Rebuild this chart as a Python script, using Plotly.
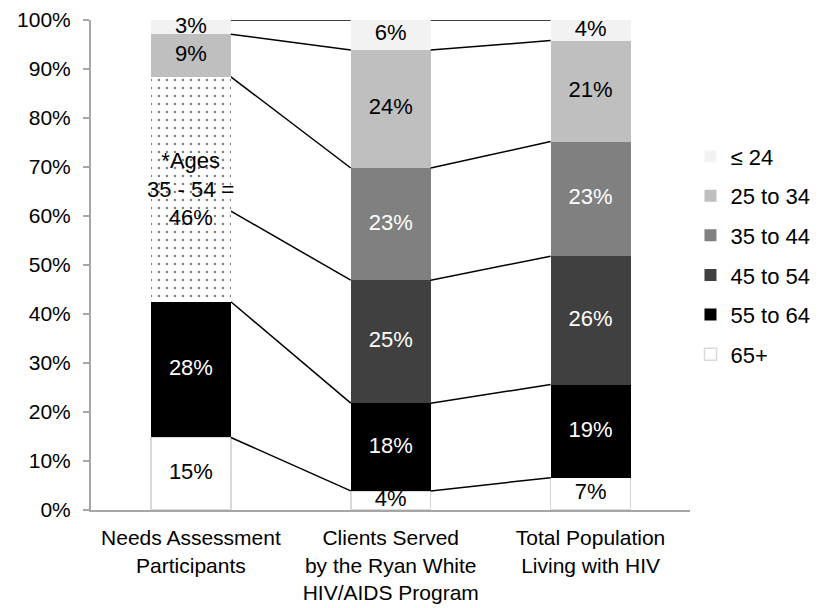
import plotly.graph_objects as go

categories = ["Needs Assessment<br>Participants",
              "Clients Served<br>by the Ryan White<br>HIV/AIDS Program",
              "Total Population<br>Living with HIV"]

# series values (percent), bottom to top
s_65plus = [14.8, 3.9, 6.6]
s_55_64 = [27.7, 17.9, 19.0]
s_45_54 = [18.5, 25.1, 26.2]
s_35_44 = [27.4, 22.9, 23.4]
s_25_34 = [8.7, 24.1, 20.6]
s_24 = [2.9, 6.1, 4.2]

series_names = ["65+", "55 to 64", "45 to 54", "35 to 44", "25 to 34", "\u2264 24"]
series_values = [s_65plus, s_55_64, s_45_54, s_35_44, s_25_34, s_24]
series_colors = ["#ffffff", "#000000", "#404040", "#808080", "#bfbfbf", "#f2f2f2"]
text_colors = ["black", "white", "white", "white", "black", "black"]
combined_note = "*Ages<br>35 - 54 =<br>{:.0f}%"

FONT = "Liberation Sans, Arial, sans-serif"
FS = 22
BAR_W = 0.4
xs = list(range(len(categories)))
n_series = len(series_names)
COMBINED = ("45 to 54", "35 to 44")

fig = go.Figure()

for k, (name, vals, col) in enumerate(zip(series_names, series_values, series_colors)):
    marker = dict(color=col,
                  line=dict(color="#d9d9d9" if name == "65+" else "rgba(0,0,0,0)",
                            width=1.5 if name == "65+" else 0))
    fig.add_trace(go.Bar(
        x=xs, y=vals, name=name, width=BAR_W, marker=marker,
        textposition="none", legendgroup=name, legendrank=n_series - k,
        showlegend=True, hoverinfo="skip",
    ))

# dotted overlay for the combined 35-54 segment of the first bar
base0 = s_65plus[0] + s_55_64[0]
comb0 = s_45_54[0] + s_35_44[0]
fig.add_trace(go.Bar(
    x=[xs[0]], y=[comb0], base=[base0], width=BAR_W, xaxis="x2", yaxis="y",
    marker=dict(color="white", line=dict(width=0),
                pattern=dict(shape=".", fgcolor="black", bgcolor="white",
                             size=8, solidity=0.08)),
    showlegend=False, hoverinfo="skip",
))

# series lines connecting segment tops between bars, and data labels
cum = [0.0] * len(categories)
for k, vals in enumerate(series_values):
    below = cum
    cum = [c + v for c, v in zip(cum, vals)]
    for i in range(len(categories) - 1):
        fig.add_trace(go.Scatter(
            x=[xs[i] + BAR_W / 2, xs[i + 1] - BAR_W / 2],
            y=[cum[i], cum[i + 1]],
            mode="lines", line=dict(color="black", width=1.5),
            showlegend=False, hoverinfo="skip",
        ))
    lx, ly, lt = [], [], []
    for i, v in enumerate(vals):
        if series_names[k] in COMBINED and i == 0:
            continue
        lx.append(xs[i])
        ly.append(below[i] + v / 2)
        lt.append(f"{v:.0f}%")
    fig.add_trace(go.Scatter(
        x=lx, y=ly, text=lt, mode="text", textposition="middle center",
        textfont=dict(family=FONT, size=FS, color=text_colors[k]),
        cliponaxis=False, showlegend=False, hoverinfo="skip",
    ))

fig.add_annotation(x=xs[0], y=base0 + comb0 / 2, text=combined_note.format(comb0),
                   showarrow=False, font=dict(family=FONT, size=FS, color="black"))

fig.update_layout(
    width=822, height=608,
    margin=dict(l=91, r=82, t=20, b=98),
    barmode="stack",
    paper_bgcolor="white", plot_bgcolor="white",
    font=dict(family=FONT, size=FS, color="black"),
    showlegend=True,
    legend=dict(traceorder="grouped", tracegroupgap=8,
                xref="container", yref="container",
                x=0.84, y=0.58, xanchor="left", yanchor="middle",
                font=dict(family=FONT, size=FS, color="black"),
                itemwidth=30, bgcolor="rgba(0,0,0,0)"),
    xaxis2=dict(overlaying="x", range=[-0.5, 2.5], visible=False),
)
fig.layout.xaxis.update(range=[-0.5, 2.5], tickvals=xs, ticktext=categories,
                        tickfont=dict(family=FONT, size=21, color="black"),
                        showline=True, linecolor="#a6a6a6", linewidth=2,
                        ticks="", showgrid=False, zeroline=False,
                        ticklabelstandoff=8, automargin=False)
fig.layout.yaxis.update(range=[0, 100], dtick=10, ticksuffix="%",
                        tickfont=dict(family=FONT, size=21, color="black"),
                        showline=True, linecolor="#a6a6a6", linewidth=2,
                        ticks="outside", ticklen=6, tickcolor="#a6a6a6", tickwidth=2,
                        showgrid=False, zeroline=False, ticklabelstandoff=8,
                        automargin=False)

fig.write_html("out.html")
